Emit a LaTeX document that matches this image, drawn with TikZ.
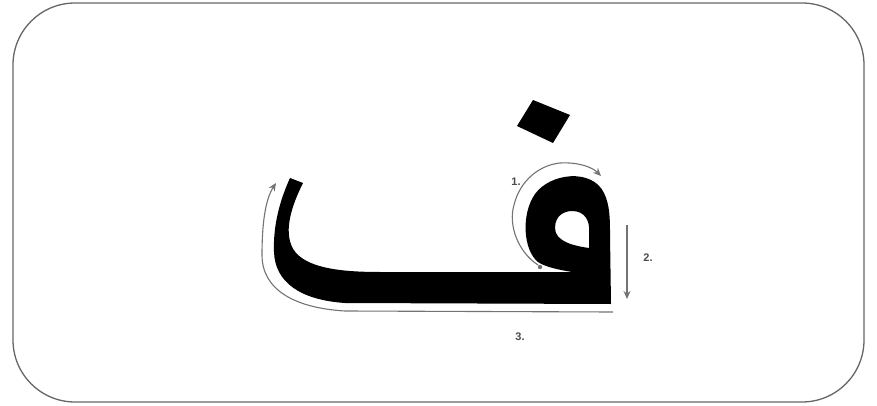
\documentclass[tikz,border=0pt]{standalone}
\usepackage{fontspec}
\setmainfont{Liberation Sans}
\usetikzlibrary{arrows.meta}
\begin{document}
\begin{tikzpicture}[x=1pt,y=-1pt,
  frame/.style={draw=black!60,line width=1.3pt,rounded corners=62pt},
  ink/.style={fill=black,even odd rule},
  guide/.style={draw=black!55,line width=1.1pt,-{Stealth[length=8pt,width=7pt]}},
  lbl/.style={font=\fontsize{11}{12}\selectfont\bfseries,text=black!70,inner sep=0pt}]
\useasboundingbox (0,0) rectangle (877,406);
\draw[frame] (13,3) rectangle (864,402);
% dot (diamond)
\fill (533,100) -- (570,115) -- (553,143) -- (517,126) -- cycle;
% letter body with hole
\path[ink]
  (290,178) -- (303,183)
  .. controls (292,205) and (281,235) .. (296,253)
  .. controls (310,268) and (340,272) .. (380,272)
  -- (572,272)
  .. controls (560,270) and (545,267) .. (538,262)
  .. controls (523,250) and (521,214) .. (535,194)
  .. controls (550,173) and (592,168) .. (604,193)
  .. controls (610,205) and (610,220) .. (610,235)
  -- (611,304) -- (345,303)
  .. controls (300,300) and (275,282) .. (274,252)
  .. controls (273,225) and (280,200) .. (290,178) -- cycle
  (589,248) .. controls (575,246) and (555,242) .. (555,228)
  .. controls (555,215) and (565,211) .. (572,211)
  .. controls (585,211) and (590,221) .. (589,232) -- cycle;
% guide 1
\fill[black!55] (540,267) circle (2.2pt);
\draw[guide] (538,265) .. controls (518,252) and (508,225) .. (514,205)
  .. controls (520,180) and (540,165) .. (560,163)
  .. controls (578,162) and (592,167) .. (601,176);
% guide 2
\coordinate (g2a) at (627,225);
\coordinate (g2b) at (627,299);
\draw[guide] (g2a) -- (g2b);
% guide 3
\draw[guide] (613,312) -- (345,311)
  .. controls (295,308) and (262,290) .. (262,255)
  .. controls (262,225) and (265,200) .. (276,183);
\node[lbl] (l1) at (516,182) {1.};
\node[lbl] (l2) at (648,258) {2.};
\node[lbl] (l3) at (520,337) {3.};
\end{tikzpicture}
\end{document}
